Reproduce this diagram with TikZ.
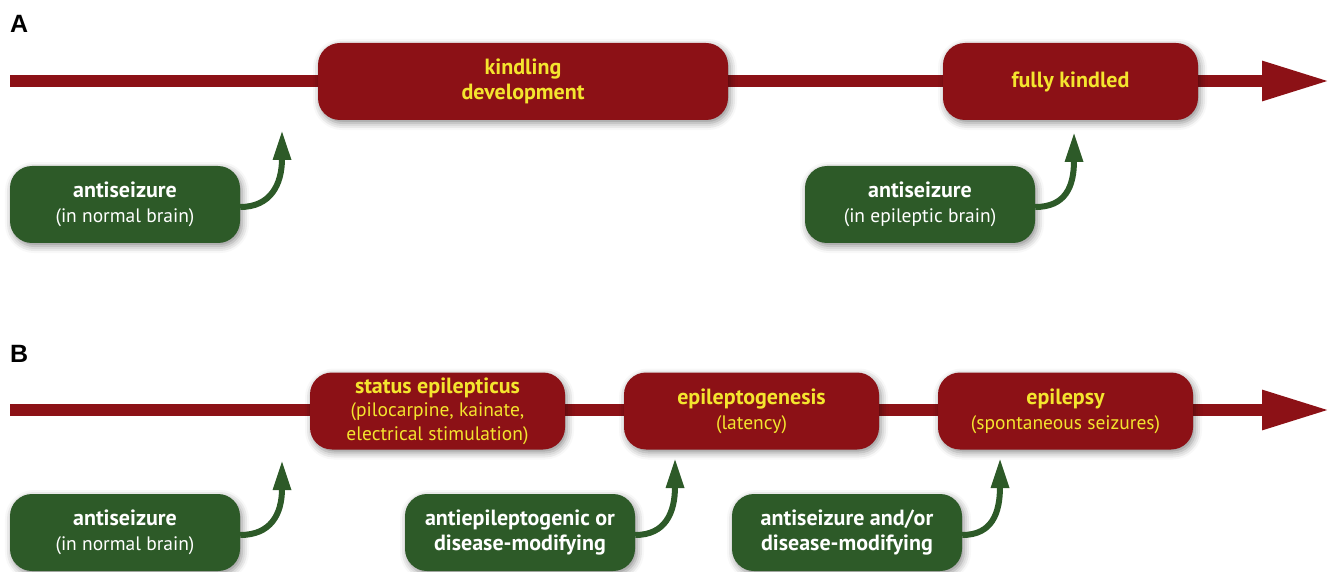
\documentclass[tikz,border=0pt]{standalone}
\usepackage{fontspec}
\setmainfont{PT Sans}
\newfontfamily\panelfont{Liberation Sans}
\usetikzlibrary{arrows.meta,shadows.blur}

\definecolor{stagered}{HTML}{8C1116}
\definecolor{druggreen}{HTML}{2D5A28}
\definecolor{stageyellow}{HTML}{F4E52E}

\newcommand{\boxhead}[1]{{\fontsize{22}{25}\selectfont\bfseries #1}}

\tikzset{
  boxbase/.style={rounded corners=22pt, minimum height=77pt, align=center,
    inner sep=1pt, font=\fontsize{19.5}{25}\selectfont,
    blur shadow={shadow xshift=2pt, shadow yshift=-3pt, shadow blur radius=7pt, shadow opacity=45}},
  stage/.style={boxbase, fill=stagered, text=stageyellow},
  drug/.style={boxbase, fill=druggreen, text=white, minimum width=230pt},
  boldtext/.style={font=\fontsize{22}{25}\selectfont\bfseries},
  timeline/.style={stagered, line width=12pt, -{Triangle[length=68pt,width=37pt]}},
  effect/.style={druggreen, line width=6pt, -{Triangle[length=30pt,width=17pt]}},
  panel/.style={font=\panelfont\bfseries\fontsize{25}{25}\selectfont, inner sep=0pt, anchor=base west}
}

\begin{document}
\begin{tikzpicture}[x=1pt,y=-1pt]
  \useasboundingbox (0,0) rectangle (1336,572);

  % panel A: kindling
  \node[panel] (lblA) at (10,33) {A};
  \coordinate (startA) at (10,81);
  \coordinate (endA) at (1330,81);
  \draw[timeline] (startA) -- (endA);
  \coordinate (tipA1) at (282,130);
  \coordinate (tipA2) at (1074,132);
  \node[drug] (normalA) at (125,204.5) {\boxhead{antiseizure}\\(in normal brain)};
  \node[drug] (epileptic) at (920,204.5) {\boxhead{antiseizure}\\(in epileptic brain)};
  \draw[effect] ([yshift=-2.5pt]normalA.east) .. controls +(30,0) and +(0,55) .. (tipA1);
  \draw[effect] ([yshift=-2.5pt]epileptic.east) .. controls +(30,0) and +(0,55) .. (tipA2);
  \node[stage, boldtext, minimum width=410pt] (kindling) at (523,81.5) {kindling\\development};
  \node[stage, boldtext, minimum width=255pt] (kindled) at (1070.5,81.5) {fully kindled};

  % panel B: status epilepticus model
  \node[panel] (lblB) at (10,362) {B};
  \coordinate (startB) at (10,410);
  \coordinate (endB) at (1330,410);
  \draw[timeline] (startB) -- (endB);
  \coordinate (tipB1) at (282,460);
  \coordinate (tipB2) at (675,458);
  \coordinate (tipB3) at (1000,458);
  \node[drug] (normalB) at (125,532.5) {\boxhead{antiseizure}\\(in normal brain)};
  \node[drug, boldtext] (antiepi) at (520,532.5) {antiepileptogenic or\\disease-modifying};
  \node[drug, boldtext] (modify) at (847,532.5) {antiseizure and/or\\disease-modifying};
  \draw[effect] ([yshift=-2.5pt]normalB.east) .. controls +(30,0) and +(0,55) .. (tipB1);
  \draw[effect] ([yshift=-2.5pt]antiepi.east) .. controls +(30,0) and +(0,55) .. (tipB2);
  \draw[effect] ([yshift=-2.5pt]modify.east) .. controls +(30,0) and +(0,55) .. (tipB3);
  \node[stage, minimum width=255pt, font=\fontsize{19.5}{23.5}\selectfont, inner sep=0pt] (status) at (437.5,411) {\boxhead{status epilepticus}\\(pilocarpine, kainate,\\electrical stimulation)};
  \node[stage, minimum width=255pt] (latency) at (751.5,411) {\boxhead{epileptogenesis}\\(latency)};
  \node[stage, minimum width=255pt] (epilepsy) at (1065.5,411) {\boxhead{epilepsy}\\(spontaneous seizures)};
\end{tikzpicture}
\end{document}
